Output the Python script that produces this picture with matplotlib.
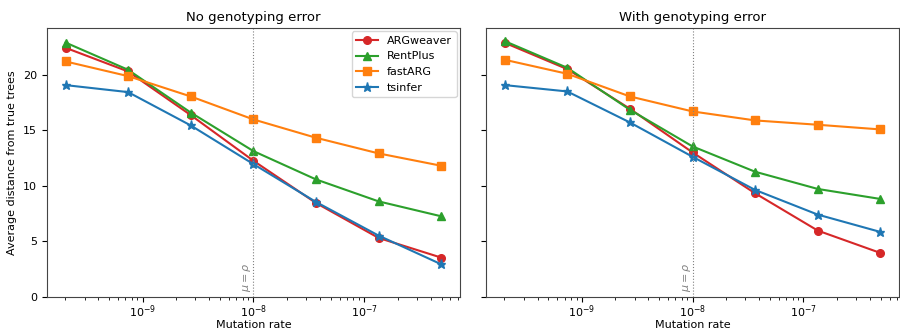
import numpy as np
import matplotlib.pyplot as plt

mutation_rate = [2.02e-10, 7.4e-10, 2.72e-9, 1e-8, 3.67e-8, 1.35e-7, 4.95e-7]
methods = ['ARGweaver', 'RentPlus', 'fastARG', 'tsinfer']
colors = ['#d62728', '#2ca02c', '#ff7f0e', '#1f77b4']
markers = ['o', '^', 's', '*']

# values
no_error = {
    'ARGweaver': [22.43, 20.3, 16.37, 12.26, 8.46, 5.31, 3.54],
    'RentPlus': [22.9, 20.45, 16.6, 13.13, 10.58, 8.6, 7.26],
    'fastARG': [21.2, 19.88, 18.05, 15.98, 14.33, 12.92, 11.81],
    'tsinfer': [19.07, 18.44, 15.44, 11.96, 8.55, 5.52, 2.94],
}
with_error = {
    'ARGweaver': [22.88, 20.51, 16.94, 13.01, 9.33, 5.97, 3.96],
    'RentPlus': [23.03, 20.63, 16.85, 13.55, 11.27, 9.72, 8.82],
    'fastARG': [21.35, 20.09, 18.05, 16.7, 15.89, 15.5, 15.08],
    'tsinfer': [19.07, 18.5, 15.71, 12.62, 9.63, 7.41, 5.85],
}
titles = ['No genotyping error', 'With genotyping error']

plt.rcParams['font.size'] = 8
fig, axes = plt.subplots(1, 2, figsize=(9, 3.31), dpi=100, sharey=True)
fig.subplots_adjust(left=0.052, right=0.999, bottom=0.103, top=0.915, wspace=0.063)

for ax, data, title in zip(axes, [no_error, with_error], titles):
    for m, c, mk in zip(methods, colors, markers):
        ax.plot(mutation_rate, data[m], color=c, marker=mk, label=m,
                markersize=6.5 if mk == '*' else 5.5)
    ax.set_xscale('log')
    ax.axvline(1e-8, color='gray', linestyle=':', linewidth=0.8)
    ax.text(1e-8, 0.4, r'$\mu=\rho$', rotation=90, color='gray',
            ha='right', va='bottom', fontsize=8)
    ax.set_title(title, fontsize=9.5, pad=5)
    ax.set_xlabel('Mutation rate', labelpad=0)
    ax.tick_params(axis='x', which='major', pad=1.5)
    ax.set_ylim(0, 24.2)
    for s in ax.spines.values():
        s.set_color('#444444')

axes[0].set_ylabel('Average distance from true trees')
axes[0].legend(loc='upper right', borderaxespad=0.3)
plt.savefig('out.png')
